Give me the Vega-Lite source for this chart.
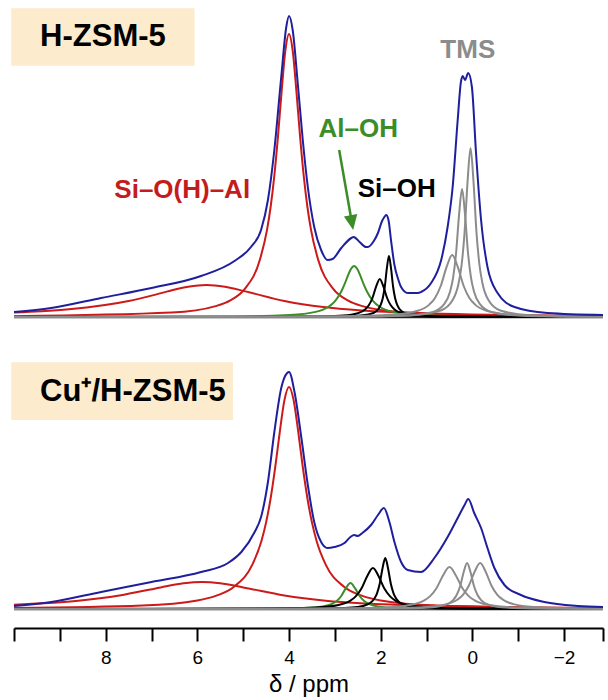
{
  "$schema": "https://vega.github.io/schema/vega-lite/v6.json",
  "padding": {"left": 10, "top": 0, "right": 4, "bottom": 2},
  "config": {"view": {"stroke": null}, "font": "Liberation Sans"},
  "spacing": 22,
  "bounds": "flush",
  "datasets": {
    "tc": [
      {"s":"r1","x":10,"y":0.8},{"s":"r1","x":6.56,"y":4.4},{"s":"r1","x":5.6,"y":10.9},{"s":"r1","x":5.28,"y":16.6},{"s":"r1","x":4.96,"y":28.3},{"s":"r1","x":4.64,"y":56.6},{"s":"r1","x":4.48,"y":87.1},{"s":"r1","x":4.40,"y":110.5},{"s":"r1","x":4.32,"y":141.5},{"s":"r1","x":4.24,"y":181.1},{"s":"r1","x":4.16,"y":226.4},{"s":"r1","x":4.08,"y":266.3},{"s":"r1","x":4.0,"y":283},{"s":"r1","x":3.92,"y":266.3},{"s":"r1","x":3.84,"y":226.4},{"s":"r1","x":3.76,"y":181.1},{"s":"r1","x":3.68,"y":141.5},{"s":"r1","x":3.60,"y":110.5},{"s":"r1","x":3.52,"y":87.1},{"s":"r1","x":3.36,"y":56.6},{"s":"r1","x":3.04,"y":28.3},{"s":"r1","x":2.72,"y":16.6},{"s":"r1","x":2.4,"y":10.9},{"s":"r1","x":1.44,"y":4.4},{"s":"r1","x":0,"y":1.8},{"s":"r1","x":-2.85,"y":0.6},
      {"s":"r2","x":10,"y":4.5},{"s":"r2","x":9.4,"y":5.8},{"s":"r2","x":8.8,"y":7.8},{"s":"r2","x":7.5,"y":16},{"s":"r2","x":7.0,"y":21.4},{"s":"r2","x":6.65,"y":25.6},{"s":"r2","x":6.2,"y":30.3},{"s":"r2","x":5.8,"y":32},{"s":"r2","x":5.4,"y":30.3},{"s":"r2","x":4.95,"y":25.6},{"s":"r2","x":4.1,"y":16},{"s":"r2","x":3.25,"y":9.9},{"s":"r2","x":2.4,"y":6.4},{"s":"r2","x":0.7,"y":3.2},{"s":"r2","x":-2.85,"y":1.2},
      {"s":"g1","x":10,"y":0.1},{"s":"g1","x":5.38,"y":0.5},{"s":"g1","x":3.98,"y":2.0},{"s":"g1","x":3.42,"y":5.1},{"s":"g1","x":3.14,"y":10.2},{"s":"g1","x":3.0,"y":15.7},{"s":"g1","x":2.86,"y":25.5},{"s":"g1","x":2.79,"y":32.6},{"s":"g1","x":2.72,"y":40.8},{"s":"g1","x":2.65,"y":48},{"s":"g1","x":2.58,"y":51},{"s":"g1","x":2.51,"y":48},{"s":"g1","x":2.44,"y":40.8},{"s":"g1","x":2.37,"y":32.6},{"s":"g1","x":2.30,"y":25.5},{"s":"g1","x":2.16,"y":15.7},{"s":"g1","x":2.02,"y":10.2},{"s":"g1","x":1.74,"y":5.1},{"s":"g1","x":1.18,"y":2.0},{"s":"g1","x":-0.22,"y":0.5},{"s":"g1","x":-2.85,"y":0.1},
      {"s":"k1","x":10,"y":0},{"s":"k1","x":5.22,"y":0.1},{"s":"k1","x":3.62,"y":0.4},{"s":"k1","x":2.82,"y":1.5},{"s":"k1","x":2.5,"y":3.8},{"s":"k1","x":2.34,"y":7.6},{"s":"k1","x":2.26,"y":11.7},{"s":"k1","x":2.18,"y":19},{"s":"k1","x":2.10,"y":30.4},{"s":"k1","x":2.02,"y":38},{"s":"k1","x":1.94,"y":30.4},{"s":"k1","x":1.86,"y":19},{"s":"k1","x":1.78,"y":11.7},{"s":"k1","x":1.70,"y":7.6},{"s":"k1","x":1.54,"y":3.8},{"s":"k1","x":1.22,"y":1.5},{"s":"k1","x":0.42,"y":0.4},{"s":"k1","x":-1.18,"y":0.1},{"s":"k1","x":-2.85,"y":0},
      {"s":"k2","x":10,"y":0},{"s":"k2","x":3.62,"y":0.15},{"s":"k2","x":2.72,"y":0.6},{"s":"k2","x":2.27,"y":2.4},{"s":"k2","x":2.09,"y":6.1},{"s":"k2","x":2.0,"y":12.2},{"s":"k2","x":1.955,"y":18.8},{"s":"k2","x":1.91,"y":30.5},{"s":"k2","x":1.865,"y":48.8},{"s":"k2","x":1.82,"y":61},{"s":"k2","x":1.775,"y":48.8},{"s":"k2","x":1.73,"y":30.5},{"s":"k2","x":1.685,"y":18.8},{"s":"k2","x":1.64,"y":12.2},{"s":"k2","x":1.55,"y":6.1},{"s":"k2","x":1.37,"y":2.4},{"s":"k2","x":0.92,"y":0.6},{"s":"k2","x":0.02,"y":0.15},{"s":"k2","x":-2.85,"y":0},
      {"s":"t3","x":10,"y":0},{"s":"t3","x":5.44,"y":0.2},{"s":"t3","x":2.94,"y":0.6},{"s":"t3","x":1.69,"y":2.4},{"s":"t3","x":1.19,"y":6.2},{"s":"t3","x":0.94,"y":12.4},{"s":"t3","x":0.815,"y":19.1},{"s":"t3","x":0.69,"y":31},{"s":"t3","x":0.565,"y":49.6},{"s":"t3","x":0.44,"y":62},{"s":"t3","x":0.315,"y":49.6},{"s":"t3","x":0.19,"y":31},{"s":"t3","x":0.065,"y":19.1},{"s":"t3","x":-0.06,"y":12.4},{"s":"t3","x":-0.31,"y":6.2},{"s":"t3","x":-0.81,"y":2.4},{"s":"t3","x":-2.06,"y":0.6},{"s":"t3","x":-2.85,"y":0.35},
      {"s":"t2","x":10,"y":0},{"s":"t2","x":2.825,"y":0.3},{"s":"t2","x":1.525,"y":1.3},{"s":"t2","x":0.875,"y":4.9},{"s":"t2","x":0.615,"y":12.8},{"s":"t2","x":0.485,"y":25.6},{"s":"t2","x":0.42,"y":39.4},{"s":"t2","x":0.355,"y":64},{"s":"t2","x":0.29,"y":102.4},{"s":"t2","x":0.225,"y":128},{"s":"t2","x":0.16,"y":102.4},{"s":"t2","x":0.095,"y":64},{"s":"t2","x":0.03,"y":39.4},{"s":"t2","x":-0.035,"y":25.6},{"s":"t2","x":-0.165,"y":12.8},{"s":"t2","x":-0.425,"y":4.9},{"s":"t2","x":-1.075,"y":1.3},{"s":"t2","x":-2.375,"y":0.3},{"s":"t2","x":-2.85,"y":0.2},
      {"s":"t1","x":10,"y":0},{"s":"t1","x":2.64,"y":0.4},{"s":"t1","x":1.34,"y":1.7},{"s":"t1","x":0.69,"y":6.5},{"s":"t1","x":0.43,"y":16.9},{"s":"t1","x":0.30,"y":33.8},{"s":"t1","x":0.235,"y":52},{"s":"t1","x":0.17,"y":84.5},{"s":"t1","x":0.105,"y":135.2},{"s":"t1","x":0.04,"y":169},{"s":"t1","x":-0.025,"y":135.2},{"s":"t1","x":-0.09,"y":84.5},{"s":"t1","x":-0.155,"y":52},{"s":"t1","x":-0.22,"y":33.8},{"s":"t1","x":-0.35,"y":16.9},{"s":"t1","x":-0.61,"y":6.5},{"s":"t1","x":-1.26,"y":1.7},{"s":"t1","x":-2.56,"y":0.4},{"s":"t1","x":-2.85,"y":0.3}
    ],
    "ts": [
      {"x":10.0,"y":5},{"x":9.19,"y":9},{"x":8.1,"y":19},{"x":7.0,"y":29},{"x":5.92,"y":41},{"x":5.19,"y":56},{"x":4.83,"y":70},{"x":4.61,"y":87},{"x":4.46,"y":117},{"x":4.32,"y":167},{"x":4.17,"y":240},{"x":4.06,"y":290},{"x":4.0,"y":301},{"x":3.92,"y":287},{"x":3.81,"y":234},{"x":3.70,"y":177},{"x":3.59,"y":130},{"x":3.45,"y":90},{"x":3.30,"y":67},{"x":3.16,"y":57},{"x":3.05,"y":58},{"x":2.86,"y":69},{"x":2.64,"y":79},{"x":2.59,"y":80},{"x":2.46,"y":75},{"x":2.32,"y":70},{"x":2.28,"y":70},{"x":2.15,"y":76},{"x":2.06,"y":84},{"x":1.97,"y":96},{"x":1.92,"y":100},{"x":1.88,"y":102},{"x":1.83,"y":97},{"x":1.77,"y":75},{"x":1.70,"y":52},{"x":1.62,"y":38},{"x":1.555,"y":30},{"x":1.41,"y":24},{"x":1.19,"y":24},{"x":1.12,"y":25},{"x":0.90,"y":34},{"x":0.68,"y":57},{"x":0.54,"y":90},{"x":0.43,"y":130},{"x":0.32,"y":197},{"x":0.25,"y":235},{"x":0.21,"y":241},{"x":0.16,"y":237},{"x":0.09,"y":244},{"x":0.01,"y":230},{"x":-0.08,"y":164},{"x":-0.19,"y":97},{"x":-0.33,"y":50},{"x":-0.55,"y":24},{"x":-0.92,"y":10},{"x":-1.64,"y":4},{"x":-2.85,"y":2}
    ],
    "bc": [
      {"s":"r1","x":10,"y":1.0},{"s":"r1","x":7.2,"y":3.4},{"s":"r1","x":6.0,"y":8.5},{"s":"r1","x":5.6,"y":13.1},{"s":"r1","x":5.2,"y":22.2},{"s":"r1","x":4.8,"y":44.4},{"s":"r1","x":4.6,"y":68.3},{"s":"r1","x":4.5,"y":86.6},{"s":"r1","x":4.4,"y":111},{"s":"r1","x":4.3,"y":142.1},{"s":"r1","x":4.2,"y":177.6},{"s":"r1","x":4.1,"y":208.9},{"s":"r1","x":4.0,"y":222},{"s":"r1","x":3.9,"y":208.9},{"s":"r1","x":3.8,"y":177.6},{"s":"r1","x":3.7,"y":142.1},{"s":"r1","x":3.6,"y":111},{"s":"r1","x":3.5,"y":86.6},{"s":"r1","x":3.4,"y":68.3},{"s":"r1","x":3.2,"y":44.4},{"s":"r1","x":2.8,"y":22.2},{"s":"r1","x":2.4,"y":13.1},{"s":"r1","x":2.0,"y":8.5},{"s":"r1","x":0.8,"y":3.4},{"s":"r1","x":-2.85,"y":0.75},
      {"s":"r2","x":10,"y":4.3},{"s":"r2","x":9.5,"y":5.4},{"s":"r2","x":8.6,"y":8.3},{"s":"r2","x":7.7,"y":13.5},{"s":"r2","x":6.8,"y":21.6},{"s":"r2","x":6.3,"y":25.7},{"s":"r2","x":5.9,"y":27},{"s":"r2","x":5.5,"y":25.7},{"s":"r2","x":5.0,"y":21.6},{"s":"r2","x":4.1,"y":13.5},{"s":"r2","x":3.2,"y":8.3},{"s":"r2","x":2.3,"y":5.4},{"s":"r2","x":0.5,"y":2.7},{"s":"r2","x":-2.85,"y":1.1},
      {"s":"g1","x":10,"y":0},{"s":"g1","x":4.66,"y":0.26},{"s":"g1","x":3.66,"y":1.0},{"s":"g1","x":3.26,"y":2.6},{"s":"g1","x":3.06,"y":5.2},{"s":"g1","x":2.96,"y":8.0},{"s":"g1","x":2.86,"y":13},{"s":"g1","x":2.76,"y":20.8},{"s":"g1","x":2.66,"y":26},{"s":"g1","x":2.56,"y":20.8},{"s":"g1","x":2.46,"y":13},{"s":"g1","x":2.36,"y":8},{"s":"g1","x":2.26,"y":5.2},{"s":"g1","x":2.06,"y":2.6},{"s":"g1","x":1.66,"y":1.0},{"s":"g1","x":0.66,"y":0.26},{"s":"g1","x":-2.85,"y":0},
      {"s":"k1","x":10,"y":0},{"s":"k1","x":7.17,"y":0.1},{"s":"k1","x":4.67,"y":0.4},{"s":"k1","x":3.42,"y":1.6},{"s":"k1","x":2.92,"y":4.1},{"s":"k1","x":2.67,"y":8.2},{"s":"k1","x":2.545,"y":12.6},{"s":"k1","x":2.42,"y":20.5},{"s":"k1","x":2.295,"y":32.8},{"s":"k1","x":2.17,"y":41},{"s":"k1","x":2.045,"y":32.8},{"s":"k1","x":1.92,"y":20.5},{"s":"k1","x":1.795,"y":12.6},{"s":"k1","x":1.67,"y":8.2},{"s":"k1","x":1.42,"y":4.1},{"s":"k1","x":0.92,"y":1.6},{"s":"k1","x":-0.33,"y":0.4},{"s":"k1","x":-2.85,"y":0.1},
      {"s":"k2","x":10,"y":0},{"s":"k2","x":4.3,"y":0.13},{"s":"k2","x":3.1,"y":0.5},{"s":"k2","x":2.5,"y":2.0},{"s":"k2","x":2.26,"y":5.1},{"s":"k2","x":2.14,"y":10.2},{"s":"k2","x":2.08,"y":15.7},{"s":"k2","x":2.02,"y":25.5},{"s":"k2","x":1.96,"y":40.8},{"s":"k2","x":1.90,"y":51},{"s":"k2","x":1.84,"y":40.8},{"s":"k2","x":1.78,"y":25.5},{"s":"k2","x":1.72,"y":15.7},{"s":"k2","x":1.66,"y":10.2},{"s":"k2","x":1.54,"y":5.1},{"s":"k2","x":1.30,"y":2.0},{"s":"k2","x":0.70,"y":0.5},{"s":"k2","x":-0.5,"y":0.13},{"s":"k2","x":-2.85,"y":0},
      {"s":"t3","x":10,"y":0},{"s":"t3","x":6.1,"y":0.1},{"s":"t3","x":3.3,"y":0.4},{"s":"t3","x":1.9,"y":1.6},{"s":"t3","x":1.34,"y":4.2},{"s":"t3","x":1.06,"y":8.4},{"s":"t3","x":0.92,"y":12.9},{"s":"t3","x":0.78,"y":21},{"s":"t3","x":0.64,"y":33.6},{"s":"t3","x":0.50,"y":42},{"s":"t3","x":0.36,"y":33.6},{"s":"t3","x":0.22,"y":21},{"s":"t3","x":0.08,"y":12.9},{"s":"t3","x":-0.06,"y":8.4},{"s":"t3","x":-0.34,"y":4.2},{"s":"t3","x":-0.9,"y":1.6},{"s":"t3","x":-2.3,"y":0.4},{"s":"t3","x":-2.85,"y":0.3},
      {"s":"t2","x":10,"y":0},{"s":"t2","x":3.115,"y":0.12},{"s":"t2","x":1.615,"y":0.46},{"s":"t2","x":0.865,"y":1.8},{"s":"t2","x":0.565,"y":4.6},{"s":"t2","x":0.415,"y":9.2},{"s":"t2","x":0.34,"y":14.2},{"s":"t2","x":0.265,"y":23},{"s":"t2","x":0.19,"y":36.8},{"s":"t2","x":0.115,"y":46},{"s":"t2","x":0.04,"y":36.8},{"s":"t2","x":-0.035,"y":23},{"s":"t2","x":-0.11,"y":14.2},{"s":"t2","x":-0.185,"y":9.2},{"s":"t2","x":-0.335,"y":4.6},{"s":"t2","x":-0.635,"y":1.8},{"s":"t2","x":-1.385,"y":0.46},{"s":"t2","x":-2.85,"y":0.12},
      {"s":"t1","x":10,"y":0},{"s":"t1","x":4.83,"y":0.11},{"s":"t1","x":2.33,"y":0.46},{"s":"t1","x":1.08,"y":1.8},{"s":"t1","x":0.58,"y":4.6},{"s":"t1","x":0.33,"y":9.2},{"s":"t1","x":0.205,"y":14.2},{"s":"t1","x":0.08,"y":23},{"s":"t1","x":-0.045,"y":36.8},{"s":"t1","x":-0.17,"y":46},{"s":"t1","x":-0.295,"y":36.8},{"s":"t1","x":-0.42,"y":23},{"s":"t1","x":-0.545,"y":14.2},{"s":"t1","x":-0.67,"y":9.2},{"s":"t1","x":-0.92,"y":4.6},{"s":"t1","x":-1.42,"y":1.8},{"s":"t1","x":-2.67,"y":0.46},{"s":"t1","x":-2.85,"y":0.4}
    ],
    "bs": [
      {"x":10.0,"y":3},{"x":9.19,"y":7},{"x":8.1,"y":17},{"x":7.0,"y":27},{"x":5.92,"y":37},{"x":5.33,"y":46},{"x":5.04,"y":57},{"x":4.75,"y":77},{"x":4.61,"y":92},{"x":4.46,"y":127},{"x":4.32,"y":177},{"x":4.17,"y":221},{"x":4.04,"y":236},{"x":4.0,"y":237},{"x":3.88,"y":217},{"x":3.73,"y":171},{"x":3.59,"y":124},{"x":3.45,"y":87},{"x":3.30,"y":67},{"x":3.16,"y":61},{"x":3.01,"y":62},{"x":2.79,"y":66},{"x":2.66,"y":72},{"x":2.58,"y":74},{"x":2.50,"y":73},{"x":2.40,"y":76},{"x":2.21,"y":84},{"x":2.06,"y":94},{"x":1.93,"y":101},{"x":1.81,"y":87},{"x":1.70,"y":67},{"x":1.555,"y":47},{"x":1.41,"y":39},{"x":1.12,"y":37},{"x":0.83,"y":51},{"x":0.54,"y":72},{"x":0.32,"y":91},{"x":0.17,"y":104},{"x":0.09,"y":110},{"x":-0.04,"y":96},{"x":-0.19,"y":81},{"x":-0.33,"y":61},{"x":-0.48,"y":41},{"x":-0.70,"y":24},{"x":-1.06,"y":14},{"x":-1.57,"y":7},{"x":-2.30,"y":3},{"x":-2.85,"y":2}
    ]
  },
  "vconcat": [
    {
      "width": 589,
      "height": 317,
      "encoding": {
        "x": {"field": "x", "type": "quantitative", "scale": {"domain": [10, -2.85], "nice": false, "zero": false}, "axis": null},
        "y": {"field": "y", "type": "quantitative", "scale": {"domain": [0, 317], "nice": false, "zero": false}, "axis": null}
      },
      "layer": [
        {
          "data": {"values": [{"y": 0}]},
          "mark": {"type": "rule", "color": "#222222", "strokeWidth": 2.5},
          "encoding": {"x": null}
        },
        {
          "data": {"name": "tc"},
          "mark": {"type": "line", "interpolate": "monotone", "strokeWidth": 2},
          "encoding": {
            "color": {"field": "s", "type": "nominal", "legend": null, "scale": {"domain": ["r1","r2","g1","k1","k2","t1","t2","t3"], "range": ["#cc1a1a","#cc1a1a","#3c8c28","#000000","#000000","#8c8c8c","#8c8c8c","#8c8c8c"]}}
          }
        },
        {
          "data": {"name": "ts"},
          "mark": {"type": "line", "interpolate": "monotone", "strokeWidth": 2, "color": "#1f1f9e"}
        },
        {
          "data": {"values": [{"x": 10.06, "x2": 6.06, "y": 308.7, "y2": 251.3}]},
          "mark": {"type": "rect", "color": "#fcebcc"},
          "encoding": {"x2": {"field": "x2"}, "y2": {"field": "y2"}}
        },
        {
          "data": {"values": [{"t": "H-ZSM-5", "x": 8.06, "y": 280.3}]},
          "mark": {"type": "text", "fontSize": 31, "fontWeight": "bold", "font": "Liberation Sans", "color": "#000000", "align": "center", "baseline": "middle"},
          "encoding": {"text": {"field": "t"}}
        },
        {
          "data": {"values": [{"t": "Si–O(H)–Al", "x": 6.33, "y": 127}]},
          "mark": {"type": "text", "fontSize": 26, "fontWeight": "bold", "font": "Liberation Sans", "color": "#c41c1c", "align": "center", "baseline": "middle"},
          "encoding": {"text": {"field": "t"}}
        },
        {
          "data": {"values": [{"t": "Al–OH", "x": 2.49, "y": 188}]},
          "mark": {"type": "text", "fontSize": 26, "fontWeight": "bold", "font": "Liberation Sans", "color": "#3c8c28", "align": "center", "baseline": "middle"},
          "encoding": {"text": {"field": "t"}}
        },
        {
          "data": {"values": [{"t": "Si–OH", "x": 1.65, "y": 128}]},
          "mark": {"type": "text", "fontSize": 26, "fontWeight": "bold", "font": "Liberation Sans", "color": "#000000", "align": "center", "baseline": "middle"},
          "encoding": {"text": {"field": "t"}}
        },
        {
          "data": {"values": [{"t": "TMS", "x": 0.1, "y": 267}]},
          "mark": {"type": "text", "fontSize": 26, "fontWeight": "bold", "font": "Liberation Sans", "color": "#8c8c8c", "align": "center", "baseline": "middle"},
          "encoding": {"text": {"field": "t"}}
        },
        {
          "data": {"values": [{"x": 2.906, "y": 167, "x2": 2.65, "y2": 100}]},
          "mark": {"type": "rule", "color": "#3c8c28", "strokeWidth": 2.5},
          "encoding": {"x2": {"field": "x2"}, "y2": {"field": "y2"}}
        },
        {
          "data": {"values": [{"x": 2.60, "y": 87}]},
          "mark": {"type": "point", "shape": "M -0.9 -2 L 0.9 -2 L 0 0 Z", "size": 225, "filled": true, "opacity": 1, "color": "#3c8c28", "angle": -10}
        }
      ]
    },
    {
      "width": 589,
      "height": 270,
      "encoding": {
        "x": {"field": "x", "type": "quantitative", "scale": {"domain": [10, -2.85], "nice": false, "zero": false},
          "axis": {"values": [10, 9, 8, 7, 6, 5, 4, 3, 2, 1, 0, -1, -2, -2.85], "labelExpr": "datum.value % 2 == 0 && datum.value < 9 ? (datum.value < 0 ? '−' + abs(datum.value) : '' + datum.value) : ''", "offset": 19, "grid": false, "domainColor": "#000000", "domainWidth": 2, "tickColor": "#000000", "tickWidth": 2, "tickSize": 13, "labelFont": "Liberation Sans", "labelFontSize": 19, "labelColor": "#000000", "labelPadding": 7, "labelOverlap": false, "labelFlush": false, "title": "δ / ppm", "titleFont": "Liberation Sans", "titleFontSize": 24, "titleFontWeight": "normal", "titleColor": "#000000", "titlePadding": 5}},
        "y": {"field": "y", "type": "quantitative", "scale": {"domain": [0, 270], "nice": false, "zero": false}, "axis": null}
      },
      "layer": [
        {
          "data": {"values": [{"y": 0}]},
          "mark": {"type": "rule", "color": "#222222", "strokeWidth": 2.5},
          "encoding": {"x": null}
        },
        {
          "data": {"name": "bc"},
          "mark": {"type": "line", "interpolate": "monotone", "strokeWidth": 2},
          "encoding": {
            "color": {"field": "s", "type": "nominal", "legend": null, "scale": {"domain": ["r1","r2","g1","k1","k2","t1","t2","t3"], "range": ["#cc1a1a","#cc1a1a","#3c8c28","#000000","#000000","#8c8c8c","#8c8c8c","#8c8c8c"]}}
          }
        },
        {
          "data": {"name": "bs"},
          "mark": {"type": "line", "interpolate": "monotone", "strokeWidth": 2, "color": "#1f1f9e"}
        },
        {
          "data": {"values": [{"x": 10.06, "x2": 5.225, "y": 246.7, "y2": 189}]},
          "mark": {"type": "rect", "color": "#fcebcc"},
          "encoding": {"x2": {"field": "x2"}, "y2": {"field": "y2"}}
        },
        {
          "data": {"values": [{"t": "Cu⁺/H-ZSM-5", "x": 7.405, "y": 217.3}]},
          "mark": {"type": "text", "fontSize": 31, "fontWeight": "bold", "font": "Liberation Sans", "color": "#000000", "align": "center", "baseline": "middle"},
          "encoding": {"text": {"field": "t"}}
        }
      ]
    }
  ]
}
